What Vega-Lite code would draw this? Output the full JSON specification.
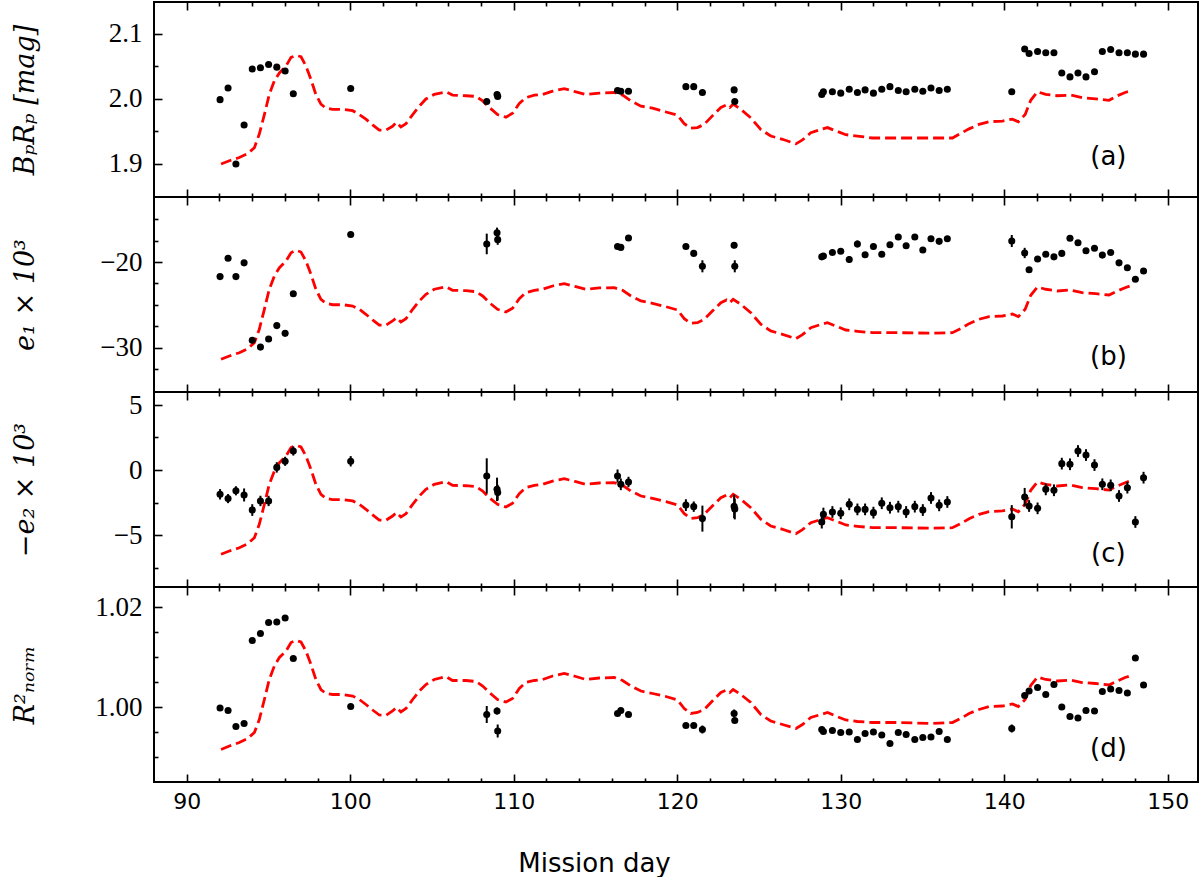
{
  "$schema": "https://vega.github.io/schema/vega-lite/v6.json",
  "background": "white",
  "padding": {"left": 10, "top": 0, "right": 3, "bottom": 0},
  "bounds": "flush",
  "spacing": 0,
  "config": {
    "view": {"stroke": "black", "strokeWidth": 2},
    "axis": {"domain": false, "grid": false, "tickColor": "black", "tickWidth": 1.6, "labelColor": "black", "titleColor": "black", "labelOverlap": false, "labelFlush": false},
    "concat": {"spacing": 0}
  },
  "datasets": {
    "obs": [
      {"day": 92.04, "a": 1.999, "b": -21.7, "eb": 0.2, "c": -1.87, "ec": 0.4, "d": 0.9998, "ed": 0.0004},
      {"day": 92.53, "a": 2.017, "b": -19.57, "eb": 0.2, "c": -2.2, "ec": 0.35, "d": 0.9993, "ed": 0.0004},
      {"day": 93.01, "a": 1.9, "b": -21.7, "eb": 0.2, "c": -1.6, "ec": 0.35, "d": 0.9961, "ed": 0.0004},
      {"day": 93.51, "a": 1.96, "b": -20.1, "eb": 0.2, "c": -1.92, "ec": 0.5, "d": 0.9967, "ed": 0.0004},
      {"day": 94.01, "a": 2.046, "b": -29.1, "eb": 0.2, "c": -3.08, "ec": 0.45, "d": 1.0133, "ed": 0.0004},
      {"day": 94.51, "a": 2.048, "b": -29.9, "eb": 0.2, "c": -2.38, "ec": 0.4, "d": 1.0147, "ed": 0.0004},
      {"day": 95.01, "a": 2.053, "b": -28.95, "eb": 0.2, "c": -2.38, "ec": 0.4, "d": 1.0169, "ed": 0.0004},
      {"day": 95.51, "a": 2.049, "b": -27.4, "eb": 0.2, "c": 0.2, "ec": 0.4, "d": 1.017, "ed": 0.0004},
      {"day": 96.02, "a": 2.043, "b": -28.3, "eb": 0.2, "c": 0.67, "ec": 0.35, "d": 1.0178, "ed": 0.0004},
      {"day": 96.52, "a": 2.008, "b": -23.7, "eb": 0.2, "c": 1.46, "ec": 0.35, "d": 1.0097, "ed": 0.0004},
      {"day": 100.03, "a": 2.016, "b": -16.8, "eb": 0.25, "c": 0.67, "ec": 0.4, "d": 1.0001, "ed": 0.0004},
      {"day": 108.35, "a": 1.996, "b": -17.9, "eb": 1.2, "c": -0.46, "ec": 1.36, "d": 0.9985, "ed": 0.0017},
      {"day": 108.98, "a": 2.007, "b": -16.6, "eb": 0.6, "c": -1.49, "ec": 0.9, "d": 0.9992, "ed": 0.0007},
      {"day": 109.02, "a": 2.004, "b": -17.4, "eb": 0.6, "c": -1.74, "ec": 0.6, "d": 0.9952, "ed": 0.0013},
      {"day": 116.35, "a": 2.013, "b": -18.2, "eb": 0.25, "c": -0.46, "ec": 0.5, "d": 0.9987, "ed": 0.0004},
      {"day": 116.55, "a": 2.012, "b": -18.3, "eb": 0.25, "c": -1.1, "ec": 0.45, "d": 0.9993, "ed": 0.0004},
      {"day": 117.02, "a": 2.012, "b": -17.2, "eb": 0.25, "c": -0.92, "ec": 0.4, "d": 0.9985, "ed": 0.0004},
      {"day": 120.53, "a": 2.019, "b": -18.2, "eb": 0.25, "c": -2.7, "ec": 0.45, "d": 0.9963, "ed": 0.0004},
      {"day": 121.01, "a": 2.019, "b": -19.0, "eb": 0.25, "c": -2.82, "ec": 0.4, "d": 0.9963, "ed": 0.0004},
      {"day": 121.54, "a": 2.01, "b": -20.5, "eb": 0.7, "c": -3.74, "ec": 1.0, "d": 0.9955, "ed": 0.0008},
      {"day": 123.48, "a": 2.014, "b": -18.06, "eb": 0.35, "c": -2.8, "ec": 0.9, "d": 0.9987, "ed": 0.0008},
      {"day": 123.52, "a": 1.996, "b": -20.5, "eb": 0.7, "c": -3.0, "ec": 0.8, "d": 0.9973, "ed": 0.0005},
      {"day": 128.84, "a": 2.007, "b": -19.4, "eb": 0.25, "c": -4.0, "ec": 0.5, "d": 0.9955, "ed": 0.0004},
      {"day": 128.94, "a": 2.011, "b": -19.3, "eb": 0.25, "c": -3.4, "ec": 0.5, "d": 0.9951, "ed": 0.0004},
      {"day": 129.49, "a": 2.011, "b": -18.9, "eb": 0.3, "c": -3.23, "ec": 0.45, "d": 0.9953, "ed": 0.0004},
      {"day": 130.0, "a": 2.009, "b": -18.75, "eb": 0.3, "c": -3.33, "ec": 0.45, "d": 0.9949, "ed": 0.0004},
      {"day": 130.52, "a": 2.015, "b": -19.7, "eb": 0.4, "c": -2.64, "ec": 0.45, "d": 0.995, "ed": 0.0004},
      {"day": 131.02, "a": 2.01, "b": -17.9, "eb": 0.4, "c": -3.03, "ec": 0.45, "d": 0.9935, "ed": 0.0004},
      {"day": 131.49, "a": 2.014, "b": -19.15, "eb": 0.3, "c": -3.03, "ec": 0.45, "d": 0.9947, "ed": 0.0004},
      {"day": 132.0, "a": 2.009, "b": -18.2, "eb": 0.3, "c": -3.28, "ec": 0.45, "d": 0.995, "ed": 0.0004},
      {"day": 132.51, "a": 2.015, "b": -19.1, "eb": 0.3, "c": -2.56, "ec": 0.45, "d": 0.9944, "ed": 0.0004},
      {"day": 133.01, "a": 2.019, "b": -18.0, "eb": 0.3, "c": -2.9, "ec": 0.45, "d": 0.9927, "ed": 0.0004},
      {"day": 133.52, "a": 2.013, "b": -17.1, "eb": 0.3, "c": -2.82, "ec": 0.45, "d": 0.9949, "ed": 0.0004},
      {"day": 134.0, "a": 2.011, "b": -18.1, "eb": 0.3, "c": -3.23, "ec": 0.45, "d": 0.9945, "ed": 0.0004},
      {"day": 134.53, "a": 2.015, "b": -17.1, "eb": 0.3, "c": -2.82, "ec": 0.45, "d": 0.9935, "ed": 0.0004},
      {"day": 135.02, "a": 2.012, "b": -18.6, "eb": 0.3, "c": -3.08, "ec": 0.45, "d": 0.9939, "ed": 0.0004},
      {"day": 135.52, "a": 2.017, "b": -17.3, "eb": 0.3, "c": -2.15, "ec": 0.45, "d": 0.994, "ed": 0.0004},
      {"day": 136.02, "a": 2.013, "b": -17.6, "eb": 0.3, "c": -2.72, "ec": 0.45, "d": 0.9951, "ed": 0.0004},
      {"day": 136.52, "a": 2.015, "b": -17.3, "eb": 0.3, "c": -2.46, "ec": 0.45, "d": 0.9935, "ed": 0.0004},
      {"day": 140.46, "a": 2.011, "b": -17.56, "eb": 0.7, "c": -3.6, "ec": 0.9, "d": 0.9957, "ed": 0.0008},
      {"day": 141.25, "a": 2.077, "b": -18.95, "eb": 0.6, "c": -2.08, "ec": 0.7, "d": 1.0023, "ed": 0.0004},
      {"day": 141.52, "a": 2.07, "b": -20.9, "eb": 0.3, "c": -2.77, "ec": 0.45, "d": 1.0032, "ed": 0.0004},
      {"day": 142.04, "a": 2.073, "b": -19.65, "eb": 0.3, "c": -2.95, "ec": 0.45, "d": 1.0039, "ed": 0.0004},
      {"day": 142.54, "a": 2.071, "b": -19.1, "eb": 0.3, "c": -1.49, "ec": 0.45, "d": 1.0025, "ed": 0.0004},
      {"day": 143.04, "a": 2.071, "b": -19.4, "eb": 0.3, "c": -1.56, "ec": 0.45, "d": 1.0045, "ed": 0.0004},
      {"day": 143.52, "a": 2.04, "b": -19.0, "eb": 0.3, "c": 0.49, "ec": 0.45, "d": 1.0, "ed": 0.0004},
      {"day": 144.02, "a": 2.034, "b": -17.24, "eb": 0.3, "c": 0.44, "ec": 0.45, "d": 0.9981, "ed": 0.0004},
      {"day": 144.51, "a": 2.04, "b": -17.76, "eb": 0.3, "c": 1.46, "ec": 0.45, "d": 0.9978, "ed": 0.0004},
      {"day": 145.0, "a": 2.034, "b": -18.7, "eb": 0.3, "c": 1.15, "ec": 0.45, "d": 0.9993, "ed": 0.0004},
      {"day": 145.52, "a": 2.042, "b": -18.4, "eb": 0.3, "c": 0.38, "ec": 0.45, "d": 0.9992, "ed": 0.0004},
      {"day": 146.0, "a": 2.073, "b": -19.2, "eb": 0.3, "c": -1.1, "ec": 0.45, "d": 1.0031, "ed": 0.0004},
      {"day": 146.51, "a": 2.076, "b": -18.9, "eb": 0.3, "c": -1.18, "ec": 0.45, "d": 1.0036, "ed": 0.0004},
      {"day": 147.02, "a": 2.071, "b": -20.1, "eb": 0.3, "c": -2.0, "ec": 0.45, "d": 1.0033, "ed": 0.0004},
      {"day": 147.53, "a": 2.071, "b": -20.66, "eb": 0.3, "c": -1.36, "ec": 0.45, "d": 1.0028, "ed": 0.0004},
      {"day": 148.02, "a": 2.069, "b": -22.0, "eb": 0.3, "c": -4.0, "ec": 0.45, "d": 1.0098, "ed": 0.0004},
      {"day": 148.52, "a": 2.069, "b": -21.05, "eb": 0.3, "c": -0.59, "ec": 0.45, "d": 1.0044, "ed": 0.0004}
    ],
    "model": [
      {"day": 92.1, "a": 1.9, "b": -31.31, "c": -6.48, "d": 0.9915},
      {"day": 92.61, "a": 1.905, "b": -30.93, "c": -6.23, "d": 0.9922},
      {"day": 93.22, "a": 1.91, "b": -30.55, "c": -5.98, "d": 0.9929},
      {"day": 93.73, "a": 1.916, "b": -30.08, "c": -5.67, "d": 0.9937},
      {"day": 94.14, "a": 1.925, "b": -29.38, "c": -5.21, "d": 0.9949},
      {"day": 94.44, "a": 1.946, "b": -27.83, "c": -4.18, "d": 0.9975},
      {"day": 94.75, "a": 1.976, "b": -25.5, "c": -2.64, "d": 1.0015},
      {"day": 95.05, "a": 2.007, "b": -23.17, "c": -1.1, "d": 1.0055},
      {"day": 95.36, "a": 2.028, "b": -21.63, "c": -0.08, "d": 1.0082},
      {"day": 95.67, "a": 2.04, "b": -20.66, "c": 0.56, "d": 1.0099},
      {"day": 96.08, "a": 2.051, "b": -19.88, "c": 1.08, "d": 1.0112},
      {"day": 96.38, "a": 2.064, "b": -18.92, "c": 1.72, "d": 1.0129},
      {"day": 96.69, "a": 2.067, "b": -18.64, "c": 1.9, "d": 1.0133},
      {"day": 96.99, "a": 2.065, "b": -18.84, "c": 1.77, "d": 1.013},
      {"day": 97.29, "a": 2.051, "b": -19.88, "c": 1.08, "d": 1.0112},
      {"day": 97.6, "a": 2.03, "b": -21.43, "c": 0.05, "d": 1.0085},
      {"day": 97.9, "a": 2.007, "b": -23.17, "c": -1.1, "d": 1.0055},
      {"day": 98.21, "a": 1.992, "b": -24.34, "c": -1.87, "d": 1.0035},
      {"day": 98.51, "a": 1.986, "b": -24.8, "c": -2.18, "d": 1.0027},
      {"day": 98.92, "a": 1.984, "b": -24.97, "c": -2.28, "d": 1.0025},
      {"day": 99.54, "a": 1.984, "b": -24.97, "c": -2.28, "d": 1.0025},
      {"day": 100.15, "a": 1.982, "b": -25.12, "c": -2.38, "d": 1.0022},
      {"day": 100.56, "a": 1.976, "b": -25.5, "c": -2.64, "d": 1.0015},
      {"day": 100.96, "a": 1.969, "b": -26.08, "c": -3.02, "d": 1.0005},
      {"day": 101.37, "a": 1.96, "b": -26.74, "c": -3.46, "d": 0.9994},
      {"day": 101.78, "a": 1.952, "b": -27.33, "c": -3.85, "d": 0.9984},
      {"day": 102.18, "a": 1.952, "b": -27.36, "c": -3.87, "d": 0.9983},
      {"day": 102.59, "a": 1.958, "b": -26.86, "c": -3.54, "d": 0.9992},
      {"day": 102.83, "a": 1.964, "b": -26.48, "c": -3.28, "d": 0.9999},
      {"day": 103.1, "a": 1.957, "b": -26.98, "c": -3.62, "d": 0.999},
      {"day": 103.41, "a": 1.962, "b": -26.59, "c": -3.36, "d": 0.9997},
      {"day": 103.82, "a": 1.976, "b": -25.5, "c": -2.64, "d": 1.0015},
      {"day": 104.23, "a": 1.989, "b": -24.53, "c": -2.0, "d": 1.0032},
      {"day": 104.63, "a": 2.0, "b": -23.76, "c": -1.48, "d": 1.0045},
      {"day": 105.14, "a": 2.007, "b": -23.17, "c": -1.1, "d": 1.0055},
      {"day": 105.85, "a": 2.011, "b": -22.87, "c": -0.9, "d": 1.0061},
      {"day": 106.26, "a": 2.006, "b": -23.29, "c": -1.18, "d": 1.0053},
      {"day": 107.08, "a": 2.005, "b": -23.34, "c": -1.21, "d": 1.0053},
      {"day": 107.69, "a": 2.004, "b": -23.45, "c": -1.28, "d": 1.0051},
      {"day": 108.1, "a": 1.997, "b": -23.95, "c": -1.62, "d": 1.0042},
      {"day": 108.51, "a": 1.987, "b": -24.73, "c": -2.13, "d": 1.0029},
      {"day": 109.01, "a": 1.976, "b": -25.5, "c": -2.64, "d": 1.0015},
      {"day": 109.52, "a": 1.972, "b": -25.81, "c": -2.85, "d": 1.001},
      {"day": 109.93, "a": 1.978, "b": -25.38, "c": -2.56, "d": 1.0017},
      {"day": 110.34, "a": 1.993, "b": -24.27, "c": -1.82, "d": 1.0037},
      {"day": 110.74, "a": 2.002, "b": -23.57, "c": -1.36, "d": 1.0049},
      {"day": 111.26, "a": 2.006, "b": -23.29, "c": -1.18, "d": 1.0053},
      {"day": 111.77, "a": 2.007, "b": -23.17, "c": -1.1, "d": 1.0055},
      {"day": 112.38, "a": 2.012, "b": -22.79, "c": -0.85, "d": 1.0062},
      {"day": 113.09, "a": 2.016, "b": -22.52, "c": -0.67, "d": 1.0067},
      {"day": 113.8, "a": 2.011, "b": -22.87, "c": -0.9, "d": 1.0061},
      {"day": 114.41, "a": 2.007, "b": -23.17, "c": -1.1, "d": 1.0055},
      {"day": 115.23, "a": 2.009, "b": -23.02, "c": -1.0, "d": 1.0058},
      {"day": 116.15, "a": 2.01, "b": -22.99, "c": -0.98, "d": 1.0059},
      {"day": 116.66, "a": 2.006, "b": -23.29, "c": -1.18, "d": 1.0053},
      {"day": 117.17, "a": 1.997, "b": -23.95, "c": -1.62, "d": 1.0042},
      {"day": 117.78, "a": 1.989, "b": -24.53, "c": -2.0, "d": 1.0032},
      {"day": 118.49, "a": 1.986, "b": -24.8, "c": -2.18, "d": 1.0027},
      {"day": 119.31, "a": 1.98, "b": -25.2, "c": -2.44, "d": 1.0021},
      {"day": 120.02, "a": 1.975, "b": -25.58, "c": -2.69, "d": 1.0014},
      {"day": 120.43, "a": 1.962, "b": -26.59, "c": -3.36, "d": 0.9997},
      {"day": 120.83, "a": 1.955, "b": -27.13, "c": -3.72, "d": 0.9987},
      {"day": 121.24, "a": 1.956, "b": -27.06, "c": -3.67, "d": 0.9989},
      {"day": 121.65, "a": 1.961, "b": -26.66, "c": -3.41, "d": 0.9995},
      {"day": 122.15, "a": 1.974, "b": -25.7, "c": -2.77, "d": 1.0012},
      {"day": 122.67, "a": 1.987, "b": -24.73, "c": -2.13, "d": 1.0029},
      {"day": 123.02, "a": 1.991, "b": -24.42, "c": -1.92, "d": 1.0034},
      {"day": 123.22, "a": 1.987, "b": -24.73, "c": -2.13, "d": 1.0029},
      {"day": 123.42, "a": 1.992, "b": -24.34, "c": -1.87, "d": 1.0035},
      {"day": 123.89, "a": 1.984, "b": -24.92, "c": -2.25, "d": 1.0025},
      {"day": 124.5, "a": 1.971, "b": -25.9, "c": -2.9, "d": 1.0009},
      {"day": 125.11, "a": 1.953, "b": -27.24, "c": -3.79, "d": 0.9985},
      {"day": 125.72, "a": 1.943, "b": -28.02, "c": -4.31, "d": 0.9972},
      {"day": 126.44, "a": 1.938, "b": -28.41, "c": -4.56, "d": 0.9965},
      {"day": 127.26, "a": 1.931, "b": -28.92, "c": -4.9, "d": 0.9957},
      {"day": 127.66, "a": 1.937, "b": -28.45, "c": -4.59, "d": 0.9965},
      {"day": 128.17, "a": 1.948, "b": -27.64, "c": -4.05, "d": 0.9979},
      {"day": 128.88, "a": 1.954, "b": -27.21, "c": -3.77, "d": 0.9986},
      {"day": 129.19, "a": 1.956, "b": -27.06, "c": -3.67, "d": 0.9989},
      {"day": 129.69, "a": 1.951, "b": -27.44, "c": -3.92, "d": 0.9982},
      {"day": 130.31, "a": 1.945, "b": -27.91, "c": -4.23, "d": 0.9974},
      {"day": 131.02, "a": 1.943, "b": -28.06, "c": -4.33, "d": 0.9971},
      {"day": 131.94, "a": 1.94, "b": -28.22, "c": -4.44, "d": 0.9969},
      {"day": 133.56, "a": 1.94, "b": -28.22, "c": -4.44, "d": 0.9969},
      {"day": 135.61, "a": 1.94, "b": -28.29, "c": -4.48, "d": 0.9967},
      {"day": 136.83, "a": 1.94, "b": -28.22, "c": -4.44, "d": 0.9969},
      {"day": 137.33, "a": 1.947, "b": -27.76, "c": -4.13, "d": 0.9977},
      {"day": 137.85, "a": 1.954, "b": -27.17, "c": -3.75, "d": 0.9987},
      {"day": 138.46, "a": 1.961, "b": -26.66, "c": -3.41, "d": 0.9995},
      {"day": 139.07, "a": 1.965, "b": -26.36, "c": -3.21, "d": 1.0001},
      {"day": 139.89, "a": 1.966, "b": -26.28, "c": -3.15, "d": 1.0002},
      {"day": 140.5, "a": 1.969, "b": -26.05, "c": -3.0, "d": 1.0006},
      {"day": 140.86, "a": 1.965, "b": -26.36, "c": -3.21, "d": 1.0001},
      {"day": 141.28, "a": 1.976, "b": -25.5, "c": -2.64, "d": 1.0015},
      {"day": 141.62, "a": 1.998, "b": -23.87, "c": -1.56, "d": 1.0043},
      {"day": 142.03, "a": 2.011, "b": -22.91, "c": -0.92, "d": 1.006},
      {"day": 142.54, "a": 2.007, "b": -23.17, "c": -1.1, "d": 1.0055},
      {"day": 143.25, "a": 2.005, "b": -23.37, "c": -1.23, "d": 1.0052},
      {"day": 144.06, "a": 2.006, "b": -23.26, "c": -1.15, "d": 1.0054},
      {"day": 144.77, "a": 2.002, "b": -23.57, "c": -1.36, "d": 1.0049},
      {"day": 145.6, "a": 2.0, "b": -23.69, "c": -1.44, "d": 1.0047},
      {"day": 146.41, "a": 1.998, "b": -23.84, "c": -1.54, "d": 1.0044},
      {"day": 146.92, "a": 2.005, "b": -23.37, "c": -1.23, "d": 1.0052},
      {"day": 147.39, "a": 2.01, "b": -22.99, "c": -0.98, "d": 1.0059},
      {"day": 147.69, "a": 2.012, "b": -22.79, "c": -0.85, "d": 1.0062}
    ]
  },
  "vconcat": [
    {
      "width": 1044,
      "height": 195,
      "layer": [
        {
          "data": {"name": "model"},
          "mark": {"type": "line", "color": "#ff0000", "strokeWidth": 2.8, "strokeDash": [11, 5]},
          "encoding": {
            "x": {"field": "day", "type": "quantitative", "scale": {"domain": [88, 151.85], "nice": false, "zero": false},
              "axis": {"orient": "bottom", "values": [90, 92, 94, 96, 98, 100, 102, 104, 106, 108, 110, 112, 114, 116, 118, 120, 122, 124, 126, 128, 130, 132, 134, 136, 138, 140, 142, 144, 146, 148, 150], "labels": false, "title": null,
                "tickSize": {"condition": {"test": "datum.value % 10 === 0", "value": -8}, "value": -4}}},
            "y": {"field": "a", "type": "quantitative", "scale": {"domain": [1.8492, 2.1492], "nice": false, "zero": false},
              "axis": {"values": [1.9, 1.95, 2.0, 2.05, 2.1], "format": ".1f",
                "labelExpr": "abs(datum.value * 10 - round(datum.value * 10)) < 1e-6 ? datum.label : ''",
                "tickSize": {"condition": {"test": "abs(datum.value * 10 - round(datum.value * 10)) < 1e-6", "value": -8}, "value": -4},
                "labelPadding": 20, "labelFont": "Liberation Serif", "labelFontSize": 27,
                "title": "BₚRₚ [mag]", "titleX": -129, "titleY": 97.5, "titleAngle": -90, "titleAlign": "center", "titleBaseline": "middle",
                "titleFont": "DejaVu Serif", "titleFontSize": 27, "titleFontStyle": "italic", "titleFontWeight": "normal"}}
          }
        },
        {
          "data": {"name": "obs"},
          "mark": {"type": "point", "filled": true, "color": "black", "size": 50, "opacity": 1},
          "encoding": {
            "x": {"field": "day", "type": "quantitative",
              "axis": {"orient": "top", "values": [90, 92, 94, 96, 98, 100, 102, 104, 106, 108, 110, 112, 114, 116, 118, 120, 122, 124, 126, 128, 130, 132, 134, 136, 138, 140, 142, 144, 146, 148, 150], "labels": false, "title": null,
                "tickSize": {"condition": {"test": "datum.value % 10 === 0", "value": -8}, "value": -4}}},
            "y": {"field": "a", "type": "quantitative", "axis": null}
          }
        },
        {
          "data": {"values": [{"tag": "(a)"}]},
          "mark": {"type": "text", "font": "DejaVu Sans", "fontSize": 26, "align": "center", "baseline": "middle", "color": "black"},
          "encoding": {
            "x": {"datum": 146.37, "type": "quantitative", "axis": null},
            "y": {"datum": 1.9112, "type": "quantitative", "axis": null},
            "text": {"field": "tag"}
          }
        }
      ],
      "resolve": {"axis": {"x": "independent", "y": "independent"}}
    },
    {
      "width": 1044,
      "height": 195,
      "layer": [
        {
          "data": {"name": "model"},
          "mark": {"type": "line", "color": "#ff0000", "strokeWidth": 2.8, "strokeDash": [11, 5]},
          "encoding": {
            "x": {"field": "day", "type": "quantitative", "scale": {"domain": [88, 151.85], "nice": false, "zero": false},
              "axis": {"orient": "bottom", "values": [90, 92, 94, 96, 98, 100, 102, 104, 106, 108, 110, 112, 114, 116, 118, 120, 122, 124, 126, 128, 130, 132, 134, 136, 138, 140, 142, 144, 146, 148, 150], "labels": false, "title": null,
                "tickSize": {"condition": {"test": "datum.value % 10 === 0", "value": -8}, "value": -4}}},
            "y": {"field": "b", "type": "quantitative", "scale": {"domain": [-35.12, -12.44], "nice": false, "zero": false},
              "axis": {"values": [-32.5, -30, -27.5, -25, -22.5, -20, -17.5, -15], "format": ".0f",
                "labelExpr": "abs(datum.value / 10 - round(datum.value / 10)) < 1e-6 ? replace(datum.label, '-', '−') : ''",
                "tickSize": {"condition": {"test": "abs(datum.value / 10 - round(datum.value / 10)) < 1e-6", "value": -8}, "value": -4},
                "labelPadding": 20, "labelFont": "Liberation Serif", "labelFontSize": 27,
                "title": "e₁ × 10³", "titleX": -129, "titleY": 97.5, "titleAngle": -90, "titleAlign": "center", "titleBaseline": "middle",
                "titleFont": "DejaVu Serif", "titleFontSize": 27, "titleFontStyle": "italic", "titleFontWeight": "normal"}}
          }
        },
        {
          "data": {"name": "obs"},
          "mark": {"type": "errorbar", "color": "black", "thickness": 2},
          "encoding": {
            "x": {"field": "day", "type": "quantitative", "axis": null},
            "y": {"field": "b", "type": "quantitative", "axis": null},
            "yError": {"field": "eb"}
          }
        },
        {
          "data": {"name": "obs"},
          "mark": {"type": "point", "filled": true, "color": "black", "size": 50, "opacity": 1},
          "encoding": {
            "x": {"field": "day", "type": "quantitative",
              "axis": {"orient": "top", "values": [90, 92, 94, 96, 98, 100, 102, 104, 106, 108, 110, 112, 114, 116, 118, 120, 122, 124, 126, 128, 130, 132, 134, 136, 138, 140, 142, 144, 146, 148, 150], "labels": false, "title": null,
                "tickSize": {"condition": {"test": "datum.value % 10 === 0", "value": -8}, "value": -4}}},
            "y": {"field": "b", "type": "quantitative", "axis": null}
          }
        },
        {
          "data": {"values": [{"tag": "(b)"}]},
          "mark": {"type": "text", "font": "DejaVu Sans", "fontSize": 26, "align": "center", "baseline": "middle", "color": "black"},
          "encoding": {
            "x": {"datum": 146.37, "type": "quantitative", "axis": null},
            "y": {"datum": -31.01, "type": "quantitative", "axis": null},
            "text": {"field": "tag"}
          }
        }
      ],
      "resolve": {"axis": {"x": "independent", "y": "independent"}}
    },
    {
      "width": 1044,
      "height": 195,
      "layer": [
        {
          "data": {"name": "model"},
          "mark": {"type": "line", "color": "#ff0000", "strokeWidth": 2.8, "strokeDash": [11, 5]},
          "encoding": {
            "x": {"field": "day", "type": "quantitative", "scale": {"domain": [88, 151.85], "nice": false, "zero": false},
              "axis": {"orient": "bottom", "values": [90, 92, 94, 96, 98, 100, 102, 104, 106, 108, 110, 112, 114, 116, 118, 120, 122, 124, 126, 128, 130, 132, 134, 136, 138, 140, 142, 144, 146, 148, 150], "labels": false, "title": null,
                "tickSize": {"condition": {"test": "datum.value % 10 === 0", "value": -8}, "value": -4}}},
            "y": {"field": "c", "type": "quantitative", "scale": {"domain": [-9, 6], "nice": false, "zero": false},
              "axis": {"values": [-7.5, -5, -2.5, 0, 2.5, 5], "format": ".0f",
                "labelExpr": "abs(datum.value / 5 - round(datum.value / 5)) < 1e-6 ? replace(datum.label, '-', '−') : ''",
                "tickSize": {"condition": {"test": "abs(datum.value / 5 - round(datum.value / 5)) < 1e-6", "value": -8}, "value": -4},
                "labelPadding": 20, "labelFont": "Liberation Serif", "labelFontSize": 27,
                "title": "−e₂ × 10³", "titleX": -129, "titleY": 97.5, "titleAngle": -90, "titleAlign": "center", "titleBaseline": "middle",
                "titleFont": "DejaVu Serif", "titleFontSize": 27, "titleFontStyle": "italic", "titleFontWeight": "normal"}}
          }
        },
        {
          "data": {"name": "obs"},
          "mark": {"type": "errorbar", "color": "black", "thickness": 2},
          "encoding": {
            "x": {"field": "day", "type": "quantitative", "axis": null},
            "y": {"field": "c", "type": "quantitative", "axis": null},
            "yError": {"field": "ec"}
          }
        },
        {
          "data": {"name": "obs"},
          "mark": {"type": "point", "filled": true, "color": "black", "size": 50, "opacity": 1},
          "encoding": {
            "x": {"field": "day", "type": "quantitative",
              "axis": {"orient": "top", "values": [90, 92, 94, 96, 98, 100, 102, 104, 106, 108, 110, 112, 114, 116, 118, 120, 122, 124, 126, 128, 130, 132, 134, 136, 138, 140, 142, 144, 146, 148, 150], "labels": false, "title": null,
                "tickSize": {"condition": {"test": "datum.value % 10 === 0", "value": -8}, "value": -4}}},
            "y": {"field": "c", "type": "quantitative", "axis": null}
          }
        },
        {
          "data": {"values": [{"tag": "(c)"}]},
          "mark": {"type": "text", "font": "DejaVu Sans", "fontSize": 26, "align": "center", "baseline": "middle", "color": "black"},
          "encoding": {
            "x": {"datum": 146.37, "type": "quantitative", "axis": null},
            "y": {"datum": -6.48, "type": "quantitative", "axis": null},
            "text": {"field": "tag"}
          }
        }
      ],
      "resolve": {"axis": {"x": "independent", "y": "independent"}}
    },
    {
      "width": 1044,
      "height": 195,
      "layer": [
        {
          "data": {"name": "model"},
          "mark": {"type": "line", "color": "#ff0000", "strokeWidth": 2.8, "strokeDash": [11, 5]},
          "encoding": {
            "x": {"field": "day", "type": "quantitative", "scale": {"domain": [88, 151.85], "nice": false, "zero": false},
              "axis": {"orient": "bottom", "values": [90, 92, 94, 96, 98, 100, 102, 104, 106, 108, 110, 112, 114, 116, 118, 120, 122, 124, 126, 128, 130, 132, 134, 136, 138, 140, 142, 144, 146, 148, 150],
                "labelExpr": "datum.value % 10 === 0 ? datum.label : ''",
                "tickSize": {"condition": {"test": "datum.value % 10 === 0", "value": -8}, "value": -4},
                "labelPadding": 17, "labelFont": "DejaVu Sans", "labelFontSize": 22,
                "title": "Mission day", "titleX": 440, "titleY": 81, "titleAlign": "center", "titleBaseline": "middle",
                "titleFont": "DejaVu Sans", "titleFontSize": 26, "titleFontWeight": "normal"}},
            "y": {"field": "d", "type": "quantitative", "scale": {"domain": [0.985, 1.024], "nice": false, "zero": false},
              "axis": {"values": [0.99, 0.995, 1.0, 1.005, 1.01, 1.015, 1.02], "format": ".2f",
                "labelExpr": "abs(datum.value * 50 - round(datum.value * 50)) < 1e-6 ? datum.label : ''",
                "tickSize": {"condition": {"test": "abs(datum.value * 50 - round(datum.value * 50)) < 1e-6", "value": -8}, "value": -4},
                "labelPadding": 20, "labelFont": "Liberation Serif", "labelFontSize": 27,
                "title": "R²ₙₒᵣₘ", "titleX": -129, "titleY": 97.5, "titleAngle": -90, "titleAlign": "center", "titleBaseline": "middle",
                "titleFont": "DejaVu Serif", "titleFontSize": 27, "titleFontStyle": "italic", "titleFontWeight": "normal"}}
          }
        },
        {
          "data": {"name": "obs"},
          "mark": {"type": "errorbar", "color": "black", "thickness": 2},
          "encoding": {
            "x": {"field": "day", "type": "quantitative", "axis": null},
            "y": {"field": "d", "type": "quantitative", "axis": null},
            "yError": {"field": "ed"}
          }
        },
        {
          "data": {"name": "obs"},
          "mark": {"type": "point", "filled": true, "color": "black", "size": 50, "opacity": 1},
          "encoding": {
            "x": {"field": "day", "type": "quantitative",
              "axis": {"orient": "top", "values": [90, 92, 94, 96, 98, 100, 102, 104, 106, 108, 110, 112, 114, 116, 118, 120, 122, 124, 126, 128, 130, 132, 134, 136, 138, 140, 142, 144, 146, 148, 150], "labels": false, "title": null,
                "tickSize": {"condition": {"test": "datum.value % 10 === 0", "value": -8}, "value": -4}}},
            "y": {"field": "d", "type": "quantitative", "axis": null}
          }
        },
        {
          "data": {"values": [{"tag": "(d)"}]},
          "mark": {"type": "text", "font": "DejaVu Sans", "fontSize": 26, "align": "center", "baseline": "middle", "color": "black"},
          "encoding": {
            "x": {"datum": 146.37, "type": "quantitative", "axis": null},
            "y": {"datum": 0.99166, "type": "quantitative", "axis": null},
            "text": {"field": "tag"}
          }
        }
      ],
      "resolve": {"axis": {"x": "independent", "y": "independent"}}
    }
  ]
}
